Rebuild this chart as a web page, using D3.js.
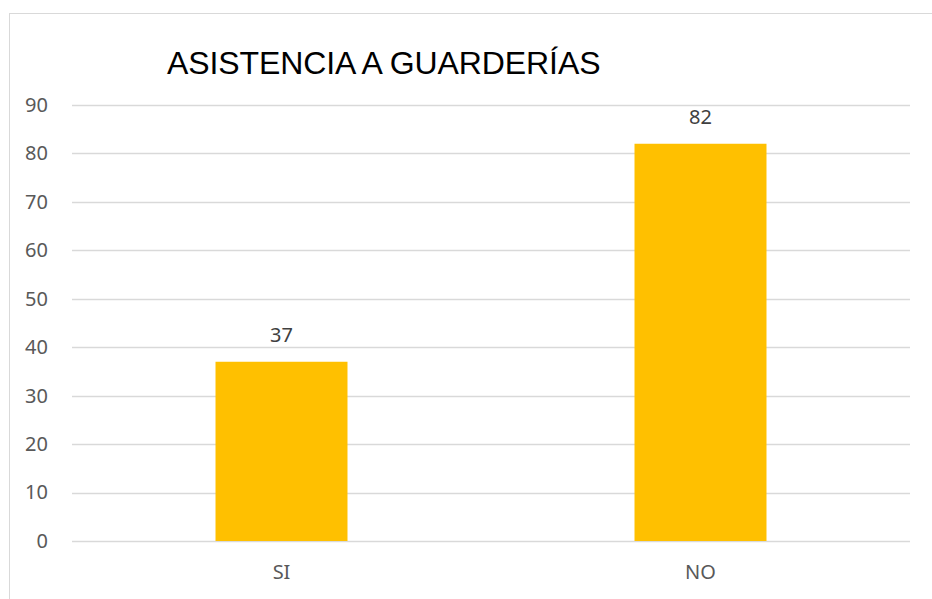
<!DOCTYPE html>
<html>
<head>
<meta charset="utf-8">
<script src="https://cdn.jsdelivr.net/npm/d3@7"></script>
<style>
body { margin: 0; background: #fff; }
</style>
</head>
<body>
<svg id="mainsvg" width="932" height="599"></svg>
<script>
var categories = ['SI', 'NO'];
var values = [37, 82];
var yTicks = [0, 10, 20, 30, 40, 50, 60, 70, 80, 90];
var title = 'ASISTENCIA A GUARDERÍAS';

var svg = d3.select('#mainsvg');
var margin = {left: 72, right: 22, top: 105, bottom: 58};
var W = 932, H = 599;
var labelFont = '"Noto Sans", "Open Sans", sans-serif';

// outer frame
svg.append('rect')
	.attr('x', 9.5).attr('y', 13.5)
	.attr('width', 940).attr('height', 600)
	.attr('fill', 'none')
	.attr('stroke', '#d9d9d9')
	.attr('stroke-width', 1);

var x = d3.scaleBand()
	.domain(categories)
	.range([margin.left, W - margin.right])
	.paddingInner(0.685)
	.paddingOuter(0.3425);

var y = d3.scaleLinear()
	.domain([0, 90])
	.range([H - margin.bottom, margin.top]);

// gridlines
svg.append('g').selectAll('line')
	.data(yTicks)
	.enter()
	.append('line')
	.attr('x1', margin.left)
	.attr('x2', W - margin.right)
	.attr('y1', function(d) {return Math.round(y(d)) + 0.5;})
	.attr('y2', function(d) {return Math.round(y(d)) + 0.5;})
	.attr('stroke', '#d9d9d9')
	.attr('stroke-width', 1.3);

// y labels
var yAxis = svg.append('g')
	.attr('transform', 'translate(' + (margin.left - 24) + ',0)')
	.call(d3.axisLeft(y).tickValues(yTicks).tickSize(0).tickPadding(0));
yAxis.select('.domain').remove();
yAxis.selectAll('text')
	.attr('fill', '#595959')
	.style('font-family', labelFont)
	.style('font-size', '20px');

// bars
svg.append('g').selectAll('rect')
	.data(values)
	.enter()
	.append('rect')
	.attr('x', function(d, i) {return x(categories[i]);})
	.attr('width', x.bandwidth())
	.attr('y', function(d) {return y(d);})
	.attr('height', function(d) {return y(0) - y(d);})
	.attr('fill', '#ffc000');

// value labels
svg.append('g').selectAll('text')
	.data(values)
	.enter()
	.append('text')
	.attr('x', function(d, i) {return x(categories[i]) + x.bandwidth() / 2;})
	.attr('y', function(d) {return y(d) - 20;})
	.attr('text-anchor', 'middle')
	.attr('fill', '#404040')
	.style('font-family', labelFont)
	.style('font-size', '20px')
	.text(function(d) {return d;});

// x labels
var xAxis = svg.append('g')
	.attr('transform', 'translate(0,' + (H - margin.bottom) + ')')
	.call(d3.axisBottom(x).tickSize(0).tickPadding(0));
xAxis.select('.domain').remove();
xAxis.selectAll('text')
	.attr('dy', null)
	.attr('y', 38)
	.attr('fill', '#595959')
	.style('font-family', labelFont)
	.style('font-size', '20px');

// title
svg.append('text')
	.attr('x', 167)
	.attr('y', 74)
	.attr('fill', '#000')
	.style('font-family', '"Liberation Sans", Arial, sans-serif')
	.style('font-size', '32px')
	.style('letter-spacing', '-0.1px')
	.text(title);
</script>
</body>
</html>
